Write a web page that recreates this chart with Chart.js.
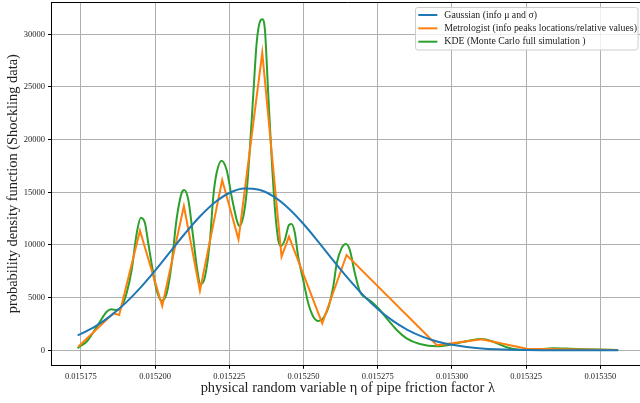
<!DOCTYPE html>
<html><head><meta charset="utf-8">
<script src="https://cdn.jsdelivr.net/npm/chart.js@4.4.1/dist/chart.umd.min.js"></script>
<style>html,body{margin:0;padding:0;width:640px;height:403px;overflow:hidden;background:#fff}canvas{display:block}</style>
</head><body><canvas id="c" width="650" height="403"></canvas>
<script>
// ---- data ----
const seriesLabels = [
  "Gaussian (info \u03bc and \u03c3)",
  "Metrologist (info peaks locations/relative values)",
  "KDE (Monte Carlo full simulation )"
];
const seriesColors = ["#1f77b4", "#ff7f0e", "#2ca02c"];

const gaussX = [0.0151739,0.015175,0.015180,0.015185,0.015190,0.015195,0.015200,0.015205,0.015210,0.015215,0.015220,0.015225,0.015230,0.015235,0.015240,0.015245,0.015250,0.015255,0.015260,0.015265,0.015270,0.015275,0.015280,0.015285,0.015290,0.015295,0.015300,0.015305,0.015310,0.015315,0.015320,0.015325,0.015330,0.015335,0.015340,0.015345,0.015350,0.015356];
const gaussY = [1426,1560,2298,3267,4480,5928,7565,9314,11063,12674,14007,14933,15358,15237,14583,13463,11991,10301,8537,6826,5264,3917,2811,1946,1299,837,520,312,180,101,54,28,14,7,3,1,1,0];

const metroX = [0.0151741,0.0151859,0.0151879,0.0151949,0.0152024,0.0152097,0.0152151,0.0152226,0.0152281,0.0152361,0.0152426,0.0152451,0.0152563,0.0152645,0.0152950,0.0153100,0.0153252,0.0153560];
const metroY = [340,3510,3350,11354,4205,13700,5660,16167,10537,28252,8886,10786,2563,9047,470,1044,152,30];

const kdeX = [0.0151739,0.0151741,0.0151769,0.0151791,0.0151814,0.0151837,0.0151853,0.0151870,0.0151887,0.0151904,0.0151921,0.0151938,0.0151952,0.0151966,0.0151977,0.0151992,0.0152005,0.0152022,0.0152039,0.0152056,0.0152072,0.0152089,0.0152098,0.0152112,0.0152128,0.0152142,0.0152153,0.0152168,0.0152185,0.0152196,0.0152207,0.0152224,0.0152241,0.0152258,0.0152275,0.0152283,0.0152297,0.0152308,0.0152319,0.0152331,0.0152342,0.0152353,0.0152361,0.0152370,0.0152381,0.0152393,0.0152404,0.0152415,0.0152424,0.0152437,0.0152451,0.0152460,0.0152471,0.0152482,0.0152499,0.0152516,0.0152533,0.0152550,0.0152566,0.0152583,0.0152600,0.0152612,0.0152628,0.0152643,0.0152656,0.0152673,0.0152690,0.0152707,0.0152729,0.0152752,0.0152780,0.0152814,0.0152847,0.0152892,0.0152949,0.0153004,0.0153061,0.0153100,0.0153139,0.0153184,0.0153229,0.0153274,0.0153341,0.0153398,0.0153454,0.0153560];
const kdeY = [190,250,816,1670,2715,3665,3890,3825,4140,5410,7620,11100,12590,12060,10160,7620,5725,4710,5410,8260,12370,14900,15220,14270,10785,7620,6265,6987,10470,14580,16800,18000,17115,14580,12370,11800,12680,14900,19015,24400,29140,31190,31420,30400,24400,18065,13320,10470,9900,10470,11895,11990,11105,8886,6674,4462,3190,2780,3038,3987,6038,8259,9680,10090,9520,7310,5560,5030,4615,3987,3038,1927,1139,598,375,590,940,1073,816,285,60,50,190,152,95,30];

const xTickValues = [0.015175,0.015200,0.015225,0.015250,0.015275,0.015300,0.015325,0.015350];
const yTickValues = [0,5000,10000,15000,20000,25000,30000];
const xTitle = "physical random variable \u03b7 of pipe friction factor \u03bb";
const yTitle = "probability density function (Shockling data)";

// ---- build ----
const zip = (xs, ys) => xs.map((x, i) => ({x: x, y: ys[i]}));
const FONT = "'Liberation Serif', 'Times New Roman', serif";

const frame = {
  id: 'frame',
  afterDatasetsDraw(chart) {
    const {ctx, chartArea: a} = chart;
    ctx.save();
    ctx.strokeStyle = '#000';
    ctx.lineWidth = 1;
    ctx.beginPath();
    ctx.moveTo(a.left, Math.round(a.top) + 0.5);
    ctx.lineTo(a.right, Math.round(a.top) + 0.5);
    ctx.moveTo(Math.round(a.right) + 0.5, a.top);
    ctx.lineTo(Math.round(a.right) + 0.5, a.bottom);
    ctx.stroke();
    ctx.restore();
  }
};

const insideLegend = {
  id: 'insideLegend',
  afterDraw(chart) {
    const ctx = chart.ctx;
    const bx = 415.5, by = 7.5, bw = 222.5, bh = 42.5, r = 2.5;
    ctx.save();
    ctx.beginPath();
    ctx.moveTo(bx + r, by);
    ctx.lineTo(bx + bw - r, by);
    ctx.quadraticCurveTo(bx + bw, by, bx + bw, by + r);
    ctx.lineTo(bx + bw, by + bh - r);
    ctx.quadraticCurveTo(bx + bw, by + bh, bx + bw - r, by + bh);
    ctx.lineTo(bx + r, by + bh);
    ctx.quadraticCurveTo(bx, by + bh, bx, by + bh - r);
    ctx.lineTo(bx, by + r);
    ctx.quadraticCurveTo(bx, by, bx + r, by);
    ctx.closePath();
    ctx.fillStyle = 'rgba(255,255,255,0.8)';
    ctx.fill();
    ctx.strokeStyle = '#cccccc';
    ctx.lineWidth = 1;
    ctx.stroke();
    chart.data.datasets.forEach((ds, i) => {
      const y = 15 + i * 13.35;
      ctx.strokeStyle = ds.borderColor;
      ctx.lineWidth = 2;
      ctx.beginPath();
      ctx.moveTo(418.3, y);
      ctx.lineTo(437.3, y);
      ctx.stroke();
      ctx.fillStyle = '#222';
      ctx.font = "9.8px " + FONT;
      ctx.textBaseline = 'middle';
      ctx.textAlign = 'left';
      ctx.fillText(ds.label, 444.3, y);
    });
    ctx.restore();
  }
};

const datasets = [
  {label: seriesLabels[0], data: zip(gaussX, gaussY), borderColor: seriesColors[0], cubicInterpolationMode: 'monotone'},
  {label: seriesLabels[1], data: zip(metroX, metroY), borderColor: seriesColors[1], tension: 0},
  {label: seriesLabels[2], data: zip(kdeX, kdeY), borderColor: seriesColors[2], cubicInterpolationMode: 'monotone'}
].map(d => Object.assign({borderWidth: 2, pointRadius: 0, fill: false, backgroundColor: d.borderColor}, d));

const noPad = s => { s.paddingTop = 0; s.paddingBottom = 0; s.paddingLeft = 0; s.paddingRight = 0; };

new Chart(document.getElementById('c'), {
  type: 'line',
  data: {datasets: datasets},
  plugins: [frame, insideLegend],
  options: {
    responsive: false,
    animation: false,
    devicePixelRatio: 1,
    parsing: false,
    layout: {padding: {left: 0, top: 2, right: 6, bottom: 0}},
    plugins: {legend: {display: false}, tooltip: {enabled: false}},
    scales: {
      x: {
        type: 'linear',
        min: 0.0151651,
        max: 0.0153647,
        afterBuildTicks: s => { s.ticks = xTickValues.map(v => ({value: v})); },
        afterFit: s => { s.height = 37.7; noPad(s); },
        ticks: {
          callback: v => Number(v).toFixed(6),
          font: {family: FONT, size: 8.5},
          color: '#222',
          padding: 3.2,
          maxRotation: 0,
          autoSkip: false
        },
        grid: {color: '#b0b0b0', lineWidth: 1, tickLength: 3.5, tickColor: '#000', drawTicks: true},
        border: {display: true, color: '#000', width: 1},
        title: {display: true, text: xTitle, font: {family: FONT, size: 14.4}, color: '#222', padding: {top: 0, bottom: 6}}
      },
      y: {
        type: 'linear',
        min: -1424,
        max: 33064,
        afterBuildTicks: s => { s.ticks = yTickValues.map(v => ({value: v})); },
        afterFit: s => { s.width = 51.5; noPad(s); },
        ticks: {
          callback: v => String(v),
          font: {family: FONT, size: 8.5},
          color: '#222',
          padding: 3,
          autoSkip: false
        },
        grid: {color: '#b0b0b0', lineWidth: 1, tickLength: 3.5, tickColor: '#000', drawTicks: true},
        border: {display: true, color: '#000', width: 1},
        title: {display: true, text: yTitle, font: {family: FONT, size: 14.4}, color: '#222', padding: {top: 4.4, bottom: 0}}
      }
    }
  }
});
</script></body></html>
